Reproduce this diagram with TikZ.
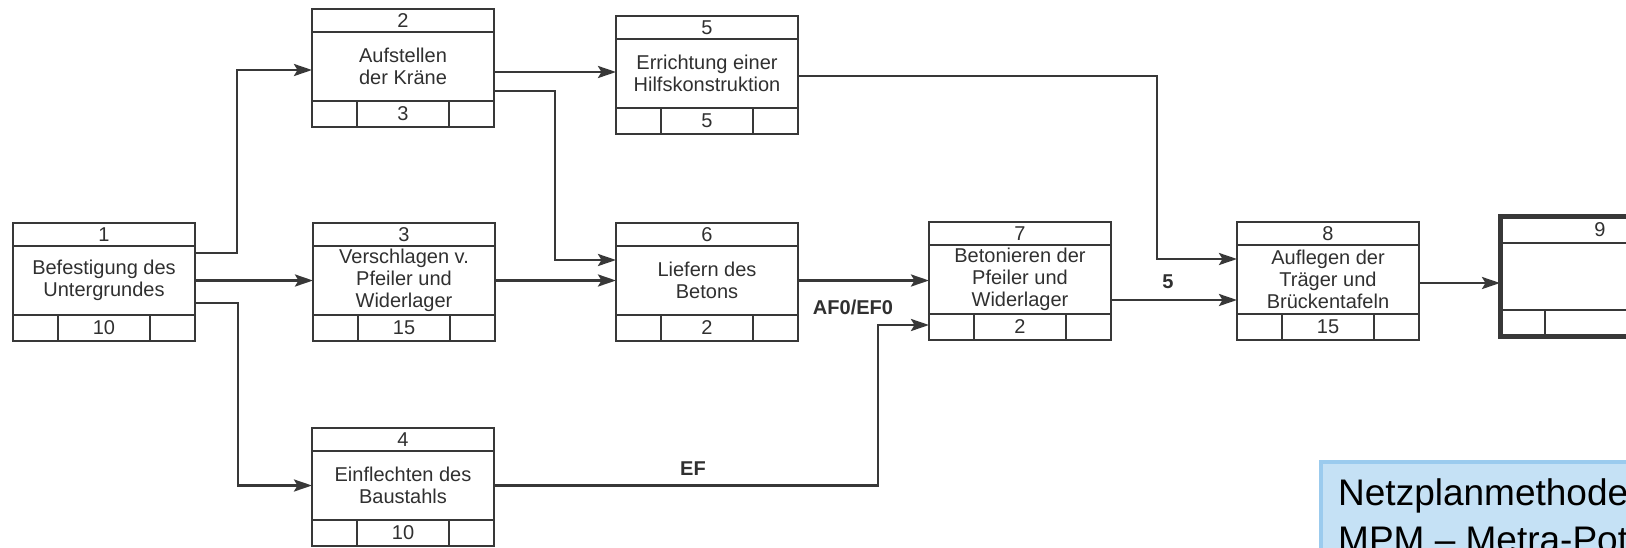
\documentclass[tikz,border=0pt]{standalone}
\usepackage{fontspec}
\setmainfont{Liberation Sans}
\usetikzlibrary{arrows.meta,calc}
\definecolor{lc}{HTML}{383838}
\definecolor{tc}{HTML}{303030}
\definecolor{bfill}{HTML}{C5E1F5}
\definecolor{bdraw}{HTML}{9BCBEE}
\newcommand\boxfont{\fontsize{20}{22}\selectfont}
\newcommand\bigfont{\fontsize{37}{47}\selectfont}
\newcommand\mpmbox[7]{% name, x, y, number, text, duration, width
  \node[hdr, minimum width=#7pt, anchor=north west] (#1h) at (#2,#3) {#4};
  \node[bdy, minimum width=#7pt, anchor=north west] (#1) at (#1h.south west) {#5};
  \node[ftside, anchor=north west] (#1fl) at (#1.south west) {};
  \node[ftmid, minimum width=#7pt-90pt, anchor=north west] (#1fm) at (#1fl.north east) {#6};
  \node[ftside, anchor=north west] (#1fr) at (#1fm.north east) {};
}
\tikzset{
  ln/.style={draw=lc, line width=2.5pt, inner sep=0pt, outer sep=0pt, text=tc, font=\boxfont},
  hdr/.style={ln, minimum height=23pt},
  bdy/.style={ln, minimum height=69pt, align=center},
  ftside/.style={ln, minimum width=45pt, minimum height=26pt},
  ftmid/.style={ln, minimum height=26pt},
  arr/.style={draw=lc, line width=2.7pt, -{Stealth[length=18pt,width=12pt,inset=3.5pt]}},
  lbl/.style={text=tc, font=\boxfont\bfseries},
}
\begin{document}
\begin{tikzpicture}[x=1pt,y=-1pt]
\useasboundingbox (0,0) rectangle (1626,547);
\clip (0,0) rectangle (1626,547);
\fill[white] (0,0) rectangle (1626,547);

\mpmbox{b1}{13}{223}{1}{Befestigung des\\Untergrundes}{10}{182}
\mpmbox{b2}{312}{9}{2}{Aufstellen\\der Kräne}{3}{182}
\mpmbox{b3}{313}{223}{3}{Verschlagen v.\\Pfeiler und\\Widerlager}{15}{182}
\mpmbox{b4}{312}{428}{4}{Einflechten des\\Baustahls}{10}{182}
\mpmbox{b5}{616}{16}{5}{Errichtung einer\\Hilfskonstruktion}{5}{182}
\mpmbox{b6}{616}{223}{6}{Liefern des\\Betons}{2}{182}
\mpmbox{b7}{929}{222}{7}{Betonieren der\\Pfeiler und\\Widerlager}{2}{182}
\mpmbox{b8}{1237}{222}{8}{Auflegen der\\Träger und\\Brückentafeln}{15}{182}

% box 9 (thick outline, cut by the edge)
\node[ln, minimum width=200pt, minimum height=27pt, anchor=north west] (b9h) at (1500,216) {9};
\node[ln, minimum width=200pt, minimum height=67pt, anchor=north west] (b9) at (b9h.south west) {};
\node[ftside, anchor=north west] (b9fl) at (b9.south west) {};
\node[ftmid, minimum width=110pt, anchor=north west] (b9fm) at (b9fl.north east) {};
\node[ftside, anchor=north west] (b9fr) at (b9fm.north east) {};
\draw[draw=lc, line width=5pt] (b9h.north west) rectangle (b9fr.south east);

% connectors
\draw[arr] ([yshift=27.5pt]b1.east) -- ++(42,0) |- ([yshift=-3.5pt]b2.west);
\draw[arr] (b1.east) -- (b3.west);
\draw[arr] ([yshift=-22.5pt]b1.east) -- ++(43,0) |- (b4.west);
\coordinate (p25) at ([yshift=-5.5pt]b2.east);
\draw[arr] (p25) -- (p25 -| b5.west);
\draw[arr] ([yshift=-24.5pt]b2.east) -- ++(61,0) |- ([yshift=20.5pt]b6.west);
\draw[arr] (b3.east) -- (b6.west);
\draw[arr] ([yshift=-2.5pt]b5.east) -- ++(359,0) |- ([yshift=20.5pt]b8.west);
\draw[arr] (b6.east) -- (b6.east -| b7.west);
\draw[arr] (b4.east) -- ++(384,0) |- ([yshift=2pt]b7fl.west);
\coordinate (p78) at ([yshift=-20.5pt]b7.east);
\draw[arr] (p78) -- (p78 -| b8.west);
\coordinate (p89) at ([yshift=-3.5pt]b8.east);
\draw[arr] (p89) -- (p89 -| b9.west);

% connector labels
\node[lbl] (l67) at (853,307) {AF0/EF0};
\node[lbl] (l47) at (693,469) {EF};
\node[lbl] (l78) at (1168,282) {5};

% blue note
\node[draw=bdraw, fill=bfill, line width=4pt, minimum width=340pt, minimum height=120pt, anchor=north west, inner sep=0pt] (note) at (1319,460) {};
\node[anchor=base west, font=\bigfont, text=black, inner sep=0pt] (n1) at (1338,505) {Netzplanmethode};
\node[anchor=base west, font=\bigfont, text=black, inner sep=0pt] (n2) at (1338,552) {MPM – Metra-Potential-Methode};
\end{tikzpicture}
\end{document}
